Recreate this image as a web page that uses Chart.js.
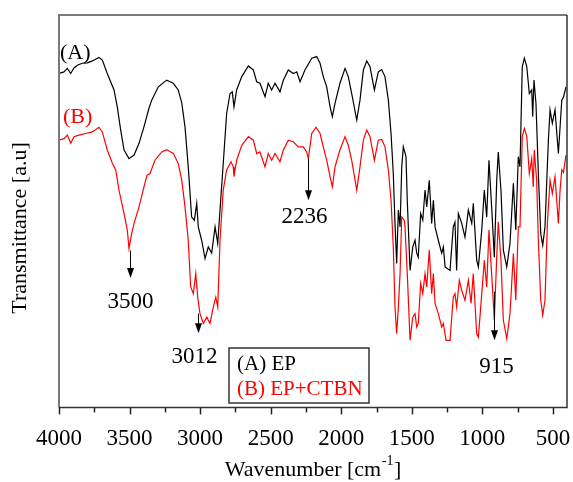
<!DOCTYPE html>
<html>
<head>
<meta charset="utf-8">
<script src="https://cdn.jsdelivr.net/npm/chart.js@4.4.1/dist/chart.umd.min.js"></script>
<style>
  html, body { margin: 0; padding: 0; background: #fff; }
</style>
</head>
<body>
<canvas id="ftirChart" width="573" height="482"></canvas>
<script>
// (A) EP
const waveA = [4000, 3965, 3941, 3917, 3894, 3870, 3835, 3799, 3764, 3717, 3693, 3658, 3610, 3587, 3563, 3539, 3504, 3468, 3433, 3398,
  3362, 3343, 3296, 3237, 3190, 3155, 3130, 3107, 3084, 3060, 3041, 3024, 3013, 2989, 2965, 2942, 2918, 2894, 2875, 2859,
  2836, 2812, 2788, 2772, 2760, 2741, 2705, 2658, 2623, 2599, 2576, 2540, 2517, 2493, 2469, 2434, 2410, 2375, 2340, 2315,
  2292, 2257, 2209, 2174, 2150, 2127, 2103, 2079, 2063, 2044, 2009, 1973, 1950, 1926, 1890, 1867, 1843, 1819, 1796, 1765,
  1737, 1713, 1690, 1666, 1647, 1631, 1619, 1607, 1595, 1583, 1571, 1560, 1541, 1532, 1512, 1493, 1477, 1465, 1454, 1437,
  1422, 1406, 1394, 1376, 1359, 1347, 1335, 1312, 1288, 1276, 1264, 1229, 1206, 1194, 1182, 1170, 1146, 1123, 1099, 1075,
  1064, 1040, 1028, 1004, 986, 969, 953, 934, 915, 898, 887, 868, 851, 827, 804, 780, 763, 745, 733, 717,
  702, 685, 667, 650, 643, 634, 620, 603, 586, 572, 556, 532, 520, 504, 485, 461, 449, 437, 425, 407];
const transA = [85.1, 85.5, 86.4, 85.1, 86.5, 87.2, 87.7, 87.8, 88.3, 89.2, 88.5, 85.1, 80.9, 76.6, 70.7, 65.6, 63.4, 64.3, 67.3, 71.5,
  76.3, 78.3, 81.7, 83.4, 82.6, 80.9, 77.6, 71.5, 61.3, 48.5, 47.7, 52.0, 46.0, 42.6, 37.9, 40.9, 39.3, 46.0, 41.8, 50.3,
  62.2, 74.9, 80.0, 80.4, 76.6, 80.9, 84.3, 87.0, 86.0, 83.0, 82.6, 79.2, 82.6, 80.9, 82.6, 80.4, 83.4, 86.0, 85.1, 85.5,
  83.0, 86.0, 89.0, 89.4, 87.7, 84.3, 81.7, 76.6, 74.1, 77.5, 82.6, 86.4, 84.3, 80.0, 73.2, 78.3, 86.0, 88.3, 86.8, 80.9,
  85.5, 86.1, 84.3, 78.3, 69.8, 59.6, 46.9, 36.7, 50.3, 46.0, 61.3, 66.4, 63.9, 52.8, 34.9, 40.9, 42.6, 39.3, 38.3, 49.4,
  47.7, 55.4, 51.1, 57.9, 46.9, 52.8, 46.0, 42.6, 39.3, 40.9, 35.8, 34.9, 46.0, 47.2, 34.9, 49.4, 46.9, 43.4, 50.3, 46.9,
  52.0, 37.5, 35.8, 45.2, 55.4, 48.5, 63.0, 51.1, 38.3, 57.9, 65.1, 55.4, 40.1, 35.8, 41.8, 57.1, 45.2, 63.9, 61.3, 86.8,
  89.0, 86.8, 80.0, 80.9, 74.1, 83.4, 77.5, 59.6, 44.3, 41.3, 46.0, 68.1, 75.8, 72.4, 75.8, 64.7, 71.5, 78.3, 79.1, 81.7];

// (B) EP+CTBN
const waveB = [4000, 3965, 3941, 3917, 3894, 3858, 3811, 3764, 3717, 3693, 3658, 3622, 3598, 3575, 3539, 3516, 3504, 3485, 3468, 3433,
  3398, 3376, 3355, 3320, 3272, 3237, 3190, 3155, 3130, 3107, 3084, 3067, 3048, 3031, 3017, 3001, 2977, 2953, 2930, 2906,
  2889, 2875, 2859, 2836, 2812, 2781, 2765, 2760, 2741, 2705, 2658, 2623, 2599, 2576, 2540, 2517, 2493, 2469, 2434, 2410,
  2375, 2340, 2304, 2269, 2245, 2233, 2209, 2179, 2150, 2127, 2103, 2079, 2063, 2044, 2009, 1973, 1950, 1926, 1890, 1867,
  1843, 1819, 1796, 1765, 1737, 1713, 1690, 1666, 1647, 1631, 1619, 1607, 1595, 1583, 1571, 1553, 1548, 1532, 1512, 1493,
  1477, 1465, 1454, 1437, 1422, 1406, 1394, 1376, 1359, 1347, 1335, 1312, 1288, 1276, 1257, 1229, 1206, 1194, 1182, 1163,
  1146, 1123, 1099, 1080, 1064, 1040, 1028, 1004, 986, 969, 953, 934, 915, 898, 887, 868, 851, 827, 804, 780,
  763, 745, 733, 717, 702, 685, 667, 650, 639, 632, 615, 603, 586, 572, 556, 539, 520, 504, 485, 461,
  449, 437, 425, 407];
const transB = [68.1, 68.5, 69.4, 67.3, 69.0, 69.4, 69.8, 70.2, 71.4, 70.2, 65.6, 62.2, 60.5, 55.4, 49.4, 45.2, 40.5, 44.3, 46.9, 51.1,
  56.2, 59.2, 59.6, 63.0, 65.1, 65.7, 64.7, 62.2, 57.9, 51.1, 42.6, 30.7, 29.0, 34.1, 28.1, 23.9, 21.4, 23.0, 21.4, 25.6,
  28.1, 25.6, 42.6, 55.4, 60.5, 62.6, 61.3, 58.8, 63.0, 66.8, 69.0, 68.1, 64.7, 65.1, 61.3, 64.7, 63.0, 64.7, 62.6, 65.6,
  68.1, 67.7, 66.4, 66.4, 65.1, 63.4, 69.8, 71.4, 69.8, 66.4, 63.0, 58.8, 56.2, 61.3, 65.6, 69.0, 66.8, 63.0, 55.4, 61.3,
  68.1, 70.7, 69.0, 63.0, 68.1, 68.3, 66.4, 60.5, 52.8, 40.9, 25.6, 18.8, 25.6, 34.1, 48.5, 47.7, 46.0, 34.1, 17.1, 23.0,
  23.9, 20.5, 21.4, 31.6, 29.0, 34.1, 30.7, 40.1, 29.0, 34.1, 26.5, 23.9, 20.5, 21.4, 17.1, 17.1, 28.1, 29.0, 25.6, 32.4,
  29.8, 27.3, 32.4, 26.5, 34.1, 18.8, 17.9, 29.0, 37.5, 30.7, 45.2, 34.1, 22.2, 38.3, 47.3, 37.5, 22.2, 17.5, 23.9, 39.2,
  27.3, 46.0, 46.0, 69.0, 71.1, 69.0, 59.6, 63.4, 56.2, 65.6, 57.9, 42.6, 27.3, 23.5, 27.3, 46.9, 57.9, 54.5, 58.8, 46.9,
  55.4, 60.5, 59.9, 64.3];

const seriesNames = ['(A) EP', '(B) EP+CTBN'];
const majorTicks = [4000, 3500, 3000, 2500, 2000, 1500, 1000, 500];
const minorTicks = [3750, 3250, 2750, 2250, 1750, 1250, 750];
const peakLabels = [3500, 3012, 2236, 915];

const serif = "'Liberation Serif', 'Times New Roman', serif";

function toPoints(xs, ys) {
  return xs.map((w, i) => ({ x: w, y: ys[i] }));
}

// arrows under the marked bands: from, tip and label level in a.u., label shift in px
const arrowSpec = [
  { from: 40.0, tip: 33.0, label: 26.9, dx: 0 },
  { from: 23.9, tip: 18.9, label: 12.8, dx: -4 },
  { from: 63.4, tip: 52.8, label: 48.5, dx: -4 },
  { from: 29.5, tip: 17.1, label: 10.2, dx: 2 },
];

const decor = {
  id: 'decor',
  afterDatasetsDraw(chart) {
    const { ctx, chartArea: a, scales: { x, y } } = chart;
    ctx.save();

    // frame
    ctx.lineWidth = 2;
    ctx.strokeStyle = '#7a7a7a';
    ctx.beginPath();
    ctx.moveTo(a.left, a.bottom);
    ctx.lineTo(a.left, a.top);
    ctx.lineTo(a.right, a.top);
    ctx.stroke();
    ctx.strokeStyle = '#333';
    ctx.lineWidth = 1.5;
    ctx.beginPath();
    ctx.moveTo(a.right, a.top);
    ctx.lineTo(a.right, a.bottom);
    ctx.lineTo(a.left, a.bottom);
    ctx.stroke();

    // tick marks, outward
    ctx.strokeStyle = '#222';
    ctx.lineWidth = 1.5;
    majorTicks.forEach((w) => {
      const px = Math.round(x.getPixelForValue(w)) + 0.5;
      ctx.beginPath();
      ctx.moveTo(px, a.bottom);
      ctx.lineTo(px, a.bottom + 7);
      ctx.stroke();
    });
    minorTicks.forEach((w) => {
      const px = Math.round(x.getPixelForValue(w)) + 0.5;
      ctx.beginPath();
      ctx.moveTo(px, a.bottom);
      ctx.lineTo(px, a.bottom + 5);
      ctx.stroke();
    });

    // arrows + band labels
    ctx.fillStyle = '#000';
    ctx.strokeStyle = '#000';
    ctx.lineWidth = 1;
    ctx.font = '23px ' + serif;
    ctx.textAlign = 'center';
    ctx.textBaseline = 'middle';
    peakLabels.forEach((w, i) => {
      const s = arrowSpec[i];
      const px = Math.round(x.getPixelForValue(w)) + 0.5;
      const y0 = y.getPixelForValue(s.from);
      const y1 = y.getPixelForValue(s.tip);
      ctx.beginPath();
      ctx.moveTo(px, y0);
      ctx.lineTo(px, y1 - 8);
      ctx.stroke();
      ctx.beginPath();
      ctx.moveTo(px - 3.5, y1 - 10);
      ctx.lineTo(px + 3.5, y1 - 10);
      ctx.lineTo(px, y1);
      ctx.closePath();
      ctx.fill();
      ctx.fillText(String(w), px + s.dx, y.getPixelForValue(s.label));
    });

    // curve tags
    ctx.font = '22px ' + serif;
    ctx.textAlign = 'left';
    ctx.fillStyle = '#000';
    ctx.fillText('(A)', a.left + 1, a.top + 38);
    ctx.fillStyle = '#ff0000';
    ctx.fillText('(B)', a.left + 4, a.top + 102);

    // legend box
    const lx = 229, ly = 348, lw = 140, lh = 55;
    ctx.fillStyle = '#fff';
    ctx.fillRect(lx, ly, lw, lh);
    ctx.strokeStyle = '#333';
    ctx.lineWidth = 1.5;
    ctx.strokeRect(lx, ly, lw, lh);
    ctx.font = '21px ' + serif;
    ctx.fillStyle = '#000';
    ctx.fillText(seriesNames[0], lx + 8, ly + 16);
    ctx.fillStyle = '#ff0000';
    ctx.fillText(seriesNames[1], lx + 8, ly + 41);

    // axis titles
    ctx.fillStyle = '#000';
    ctx.font = '22px ' + serif;
    const t1 = 'Wavenumber [cm';
    const sup = '-1';
    const t2 = ']';
    const w1 = ctx.measureText(t1).width;
    const w3 = ctx.measureText(t2).width;
    ctx.font = '14px ' + serif;
    const w2 = ctx.measureText(sup).width;
    const total = w1 + w2 + w3 + 1;
    let tx = (a.left + a.right) / 2 - total / 2;
    const ty = 470;
    ctx.font = '22px ' + serif;
    ctx.fillText(t1, tx, ty);
    ctx.font = '14px ' + serif;
    ctx.fillText(sup, tx + w1 + 0.5, ty - 9);
    ctx.font = '22px ' + serif;
    ctx.fillText(t2, tx + w1 + w2 + 1, ty);

    ctx.translate(20, 228);
    ctx.rotate(-Math.PI / 2);
    ctx.textAlign = 'center';
    ctx.fillText('Transmittance [a.u]', 0, 0);

    ctx.restore();
  }
};

const ctx = document.getElementById('ftirChart').getContext('2d');
new Chart(ctx, {
  type: 'line',
  data: {
    datasets: [
      {
        label: seriesNames[0],
        data: toPoints(waveA, transA),
        borderColor: '#000',
        borderWidth: 1.2,
        pointRadius: 0,
        tension: 0,
      },
      {
        label: seriesNames[1],
        data: toPoints(waveB, transB),
        borderColor: '#ff0000',
        borderWidth: 1.2,
        pointRadius: 0,
        tension: 0,
      },
    ],
  },
  options: {
    responsive: false,
    animation: false,
    layout: { padding: { left: 59, top: 15, right: 6, bottom: 19 } },
    plugins: {
      legend: { display: false },
      tooltip: { enabled: false },
    },
    scales: {
      x: {
        type: 'linear',
        reverse: true,
        min: 400,
        max: 4000,
        afterBuildTicks: (scale) => {
          scale.ticks = majorTicks.map((v) => ({ value: v }));
        },
        afterFit: (scale) => {
          scale.paddingLeft = 0;
          scale.paddingRight = 0;
        },
        grid: { display: false, drawTicks: true, tickLength: 8 },
        border: { display: false },
        ticks: {
          autoSkip: false,
          maxRotation: 0,
          padding: 10,
          color: '#000',
          font: { family: serif, size: 23 },
          callback: (v) => String(v),
        },
      },
      y: {
        display: false,
        min: 0,
        max: 100,
      },
    },
  },
  plugins: [decor],
});
</script>
</body>
</html>
